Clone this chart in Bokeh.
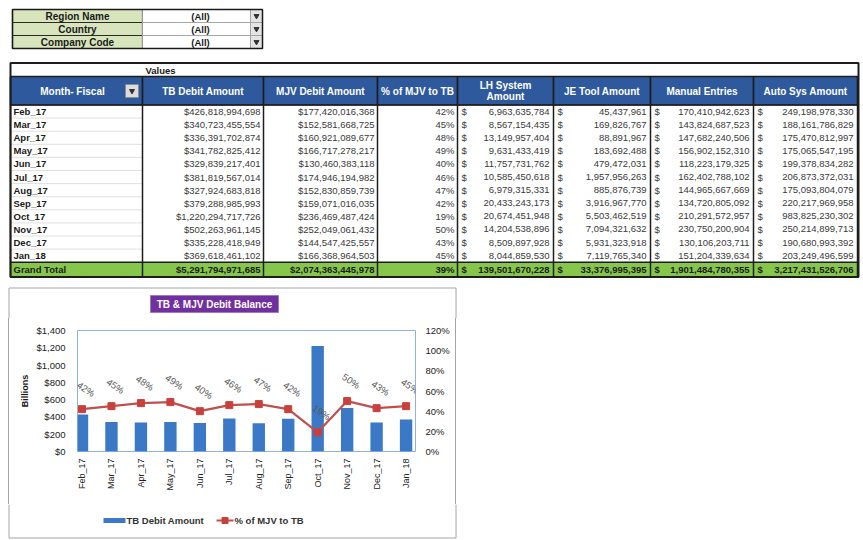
import math
from bokeh.plotting import figure
from bokeh.models import (Range1d, LinearAxis, FixedTicker, NumeralTickFormatter,
                          PrintfTickFormatter, ColumnDataSource, LabelSet,
                          InlineStyleSheet)
from bokeh.layouts import column
from bokeh.embed import file_html
from bokeh.resources import INLINE
from bokeh.core.properties import value

FONT = "Liberation Sans"

# ---------------- data ----------------
filter_labels = ["Region Name", "Country", "Company Code"]
filter_values = ["(All)", "(All)", "(All)"]

headers = ["Month- Fiscal", "TB Debit Amount", "MJV Debit Amount", "% of MJV to TB",
           "LH System\nAmount", "JE Tool Amount", "Manual Entries", "Auto Sys Amount"]

months = ["Feb_17", "Mar_17", "Apr_17", "May_17", "Jun_17", "Jul_17",
          "Aug_17", "Sep_17", "Oct_17", "Nov_17", "Dec_17", "Jan_18"]

tb_debit = [426818994698, 340723455554, 336391702874, 341782825412, 329839217401,
            381819567014, 327924683818, 379288985993, 1220294717726, 502263961145,
            335228418949, 369618461102]
mjv_debit = [177420016368, 152581668725, 160921089677, 166717278217, 130460383118,
             174946194982, 152830859739, 159071016035, 236469487424, 252049061432,
             144547425557, 166368964503]
pct_mjv_tb = [42, 45, 48, 49, 40, 46, 47, 42, 19, 50, 43, 45]
lh_system = [6963635784, 8567154435, 13149957404, 9631433419, 11757731762,
             10585450618, 6979315331, 20433243173, 20674451948, 14204538896,
             8509897928, 8044859530]
je_tool = [45437961, 169826767, 88891967, 183692488, 479472031, 1957956263,
           885876739, 3916967770, 5503462519, 7094321632, 5931323918, 7119765340]
manual_entries = [170410942623, 143824687523, 147682240506, 156902152310, 118223179325,
                  162402788102, 144965667669, 134720805092, 210291572957, 230750200904,
                  130106203711, 151204339634]
auto_sys = [249198978330, 188161786829, 175470812997, 175065547195, 199378834282,
            206873372031, 175093804079, 220217969958, 983825230302, 250214899713,
            190680993392, 203249496599]

grand_label = "Grand Total"
tot_tb = 5291794971685
tot_mjv = 2074363445978
tot_pct = 39
tot_lh = 139501670228
tot_je = 33376995395
tot_manual = 1901484780355
tot_auto = 3217431526706

chart_title = "TB & MJV Debit Balance"
units_label = "Billions"
legend_labels = ["TB Debit Amount", "% of MJV to TB"]

BOX = "#A6A6A6"


def txt(fig, xs, ys, texts, align="left", size="9.5px", color="#333333", bold=False):
    fig.text(x=xs, y=ys, text=texts, text_align=align, text_baseline="middle",
             text_font=value(FONT), text_font_size=size, text_color=color,
             text_font_style="bold" if bold else "normal", text_line_height=1.05)


# ---------------- table figure (also top of the chart box) ----------------
tbl = figure(width=863, height=318, x_range=Range1d(0, 863), y_range=Range1d(318, 0),
             x_axis_type=None, y_axis_type=None, output_backend="svg",
             toolbar_location=None, min_border=0, frame_align=False)
tbl.outline_line_color = None
tbl.grid.visible = False

# filter block
f_top = [9, 22, 35]
f_bot = [22, 35, 48]
f_mid = [(a + b) / 2 for a, b in zip(f_top, f_bot)]
tbl.quad(left=12, right=142, top=f_top, bottom=f_bot, fill_color="#D8E4BC",
         line_color="#2a2a2a", line_width=1.2)
tbl.quad(left=142, right=250, top=f_top, bottom=f_bot, fill_color="white",
         line_color="#9a9a9a", line_width=0.8)
tbl.quad(left=250, right=262, top=f_top, bottom=f_bot, fill_color="#E4E4E4",
         line_color="#9a9a9a", line_width=0.8)
tbl.quad(left=12, right=262, top=9, bottom=48, fill_color=None,
         line_color="#1a1a1a", line_width=1.5)
tbl.scatter(x=[256] * 3, y=f_mid, marker="inverted_triangle", size=5,
            color="#333333")
txt(tbl, [77] * 3, f_mid, filter_labels, align="center", size="10px",
    color="#1a1a1a", bold=True)
txt(tbl, [200] * 3, f_mid, filter_values, align="center", size="9.5px",
    color="#1a1a1a", bold=True)

# table layout
col_edges = [10, 142, 263, 377, 457, 553, 650, 753, 857]
row_top0 = 104.5
row_h = 13.1
n = len(months)
row_mid = [row_top0 + row_h * (i + 0.5) for i in range(n)]
gt_top = row_top0 + row_h * n
gt_bot = 276.5
gt_mid = (gt_top + gt_bot) / 2

tbl.quad(left=10, right=858, top=62.5, bottom=gt_bot, fill_color="white",
         line_color=None)
tbl.quad(left=col_edges[:-1], right=col_edges[1:], top=76, bottom=row_top0,
         fill_color="#2E599C", line_color="#1d1d1d", line_width=1.2)
hx = [(a + b) / 2 for a, b in zip(col_edges[:-1], col_edges[1:])]
hx[0] = 72
txt(tbl, hx, [90.5] * len(headers), headers, align="center", size="10px",
    color="white", bold=True)
tbl.quad(left=125, right=138, top=84, bottom=97, fill_color="#DCDCDC",
         line_color="#8a8a8a", line_width=0.8)
tbl.scatter(x=[131.5], y=[90.5], marker="inverted_triangle", size=5,
            color="#333333")
txt(tbl, [145], [69.5], ["Values"], size="9.5px", color="#1a1a1a", bold=True)

tbl.quad(left=10, right=858, top=gt_top, bottom=gt_bot, fill_color="#86C64A",
         line_color=None)
tbl.segment(x0=[10] * (n - 1), x1=[142] * (n - 1),
            y0=[row_top0 + row_h * (i + 1) for i in range(n - 1)],
            y1=[row_top0 + row_h * (i + 1) for i in range(n - 1)],
            line_color="#D8D8D8", line_width=0.8)
tbl.segment(x0=col_edges, x1=col_edges, y0=[76] * len(col_edges),
            y1=[gt_bot] * len(col_edges), line_color="#1d1d1d", line_width=1.5)
for yy in (76, row_top0, gt_top, gt_bot):
    tbl.segment(x0=[10], x1=[858], y0=[yy], y1=[yy], line_color="#1d1d1d",
                line_width=1.5)
tbl.quad(left=10, right=858, top=62.5, bottom=gt_bot, fill_color=None,
         line_color="#1d1d1d", line_width=2)


def money(v):
    return "${:,}".format(v)


def plain(v):
    return "{:,}".format(v)


txt(tbl, [13] * n, row_mid, months, size="9.5px", color="#1a1a1a", bold=True)
num_color = "#3a3a3a"
txt(tbl, [col_edges[2] - 3] * n, row_mid, [money(v) for v in tb_debit],
    align="right", color=num_color)
txt(tbl, [col_edges[3] - 3] * n, row_mid, [money(v) for v in mjv_debit],
    align="right", color=num_color)
txt(tbl, [col_edges[4] - 3] * n, row_mid, ["{}%".format(v) for v in pct_mjv_tb],
    align="right", color=num_color)
dollar_cols = [lh_system, je_tool, manual_entries, auto_sys]
for k, vals in enumerate(dollar_cols):
    c = 4 + k
    txt(tbl, [col_edges[c] + 4] * n, row_mid, ["$"] * n, color=num_color)
    txt(tbl, [col_edges[c + 1] - 4] * n, row_mid, [plain(v) for v in vals],
        align="right", color=num_color)

gt_color = "#1a1a1a"
txt(tbl, [13], [gt_mid], [grand_label], color=gt_color, bold=True)
txt(tbl, [col_edges[2] - 3], [gt_mid], [money(tot_tb)], align="right",
    color=gt_color, bold=True)
txt(tbl, [col_edges[3] - 3], [gt_mid], [money(tot_mjv)], align="right",
    color=gt_color, bold=True)
txt(tbl, [col_edges[4] - 3], [gt_mid], ["{}%".format(tot_pct)], align="right",
    color=gt_color, bold=True)
for k, tv in enumerate([tot_lh, tot_je, tot_manual, tot_auto]):
    c = 4 + k
    txt(tbl, [col_edges[c] + 4], [gt_mid], ["$"], color=gt_color, bold=True)
    txt(tbl, [col_edges[c + 1] - 4], [gt_mid], [plain(tv)], align="right",
        color=gt_color, bold=True)

# chart box top part and title box
tbl.segment(x0=[8.5, 8.5, 455.5], x1=[455.5, 8.5, 455.5],
            y0=[287.5, 287.5, 287.5], y1=[287.5, 318, 318],
            line_color=BOX, line_width=1)
tbl.quad(left=150, right=278, top=295, bottom=312, fill_color="#7030A0",
         line_color="#9B7BC0", line_width=1)
txt(tbl, [214], [303.5], [chart_title], align="center", size="10px",
    color="white", bold=True)

# ---------------- chart figure ----------------
idx = list(range(len(months)))
tb_billions = [v / 1e9 for v in tb_debit]
pct_labels = ["{}%".format(v) for v in pct_mjv_tb]

ch = figure(width=457, height=186, x_range=Range1d(-0.153, 11.32),
            y_range=Range1d(0, 1400), output_backend="svg", toolbar_location=None,
            min_border_left=77, min_border_right=42, min_border_top=12,
            min_border_bottom=53)
ch.stylesheets = [InlineStyleSheet(css=(
    ":host { position: relative; }"
    ":host::after { content: ''; position: absolute; left: 8px; top: 0;"
    " right: 1px; bottom: 0; border-left: 1px solid #A6A6A6;"
    " border-right: 1px solid #A6A6A6; pointer-events: none; z-index: 10; }"))]
ch.extra_y_ranges = {"pct": Range1d(0, 120)}
ch.grid.visible = False
ch.outline_line_color = "#8DB3E2"
ch.outline_line_width = 1

bars = ch.vbar(x=idx, top=tb_billions, width=0.42, fill_color="#3B78C6",
               line_color=None)
ch.line(x=idx, y=pct_mjv_tb, y_range_name="pct", line_color="#C0504D",
        line_width=2.2)
ch.scatter(x=idx, y=pct_mjv_tb, y_range_name="pct", marker="square", size=7,
           fill_color="#C8403C", line_color="#C8403C")

lab_src = ColumnDataSource(dict(x=idx, y=pct_mjv_tb, t=pct_labels))
ch.add_layout(LabelSet(x="x", y="y", text="t", source=lab_src, y_range_name="pct",
                       x_offset=4, y_offset=20, angle=-0.6, text_align="center",
                       text_baseline="middle", text_font=value(FONT),
                       text_font_size="9.5px", text_color="#595959"))

xa = ch.xaxis[0]
xa.ticker = FixedTicker(ticks=idx)
xa.major_label_overrides = {i: m for i, m in zip(idx, months)}
xa.major_label_orientation = math.pi / 2
xa.major_label_text_font = FONT
xa.major_label_text_font_size = "9px"
xa.major_label_text_color = "#222222"
xa.major_label_standoff = 7
xa.major_tick_line_color = None
xa.major_tick_out = 0
xa.major_tick_in = 0
xa.minor_tick_line_color = None
xa.axis_line_color = None

ya = ch.yaxis[0]
ya.ticker = FixedTicker(ticks=[0, 200, 400, 600, 800, 1000, 1200, 1400])
ya.formatter = NumeralTickFormatter(format="$0,0")
ya.major_label_text_font = FONT
ya.major_label_text_font_size = "9.5px"
ya.major_label_text_color = "#222222"
ya.major_label_standoff = 12
ya.major_tick_line_color = None
ya.major_tick_out = 0
ya.major_tick_in = 0
ya.minor_tick_line_color = None
ya.axis_line_color = None
ya.axis_label = units_label
ya.axis_label_standoff = 3
ya.axis_label_text_font = FONT
ya.axis_label_text_font_size = "9px"
ya.axis_label_text_font_style = "bold"
ya.axis_label_text_color = "#1a1a1a"

ra = LinearAxis(y_range_name="pct",
                ticker=FixedTicker(ticks=[0, 20, 40, 60, 80, 100, 120]),
                formatter=PrintfTickFormatter(format="%d%%"))
ra.major_label_text_font = FONT
ra.major_label_text_font_size = "9.5px"
ra.major_label_text_color = "#222222"
ra.major_label_standoff = 10
ra.major_tick_line_color = None
ra.major_tick_out = 0
ra.major_tick_in = 0
ra.minor_tick_line_color = None
ra.axis_line_color = None
ch.add_layout(ra, "right")

# ---------------- legend strip (bottom of the chart box) ----------------
lg = figure(width=457, height=35, x_range=Range1d(0, 457), y_range=Range1d(539, 504),
            x_axis_type=None, y_axis_type=None, output_backend="svg",
            toolbar_location=None, min_border=0, frame_align=False)
lg.outline_line_color = None
lg.grid.visible = False
lg.segment(x0=[8.5, 455.5, 8.5], x1=[8.5, 455.5, 455.5],
           y0=[504, 504, 537.5], y1=[537.5, 537.5, 537.5],
           line_color=BOX, line_width=1)
lg.quad(left=103, right=125, top=517.5, bottom=522.5, fill_color="#3B78C6",
        line_color=None)
lg.segment(x0=[216], x1=[233], y0=[520], y1=[520], line_color="#C0504D",
           line_width=2.2)
lg.scatter(x=[224.5], y=[520], marker="square", size=6, fill_color="#C8403C",
           line_color="#C8403C")
txt(lg, [126, 234], [520, 520], legend_labels, size="9.5px", color="#333333",
    bold=True)

layout = column(tbl, ch, lg, spacing=0)

open("out.html", "w").write(file_html(layout, INLINE))
